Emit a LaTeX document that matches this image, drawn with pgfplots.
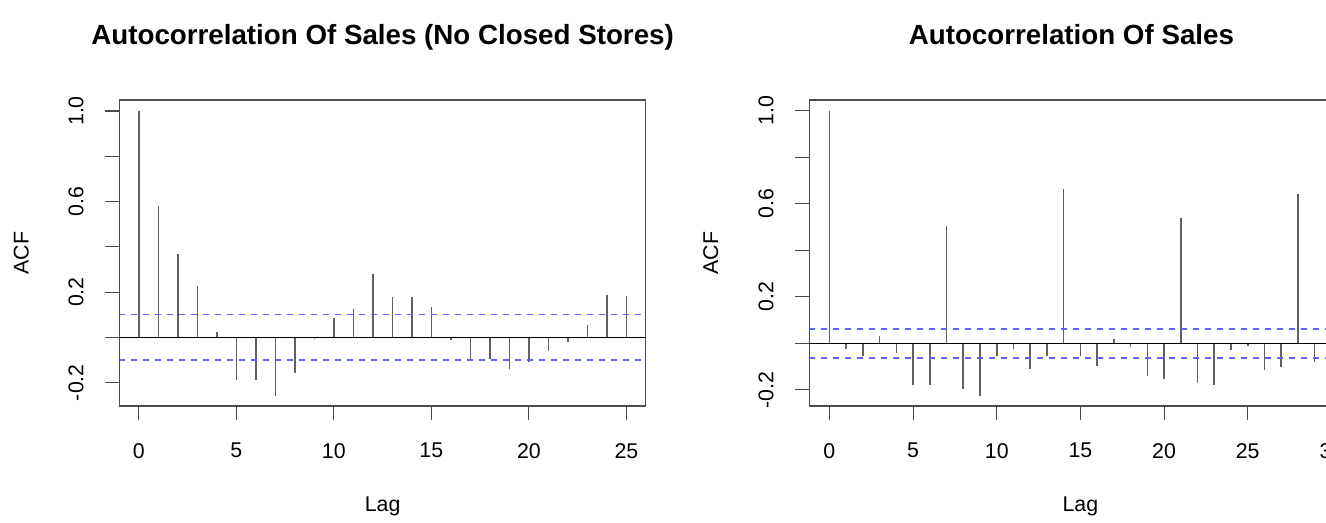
\documentclass[border=0pt]{standalone}
\usepackage{pgfplots}
\pgfplotsset{compat=1.18}
\usepackage{pgfplotstable}
\usepackage{fontspec}
\setmainfont{Liberation Sans}

\pgfplotstableread{
lag acf
0 1.000
1 0.582
2 0.368
3 0.229
4 0.026
5 -0.187
6 -0.188
7 -0.257
8 -0.157
9 -0.009
10 0.087
11 0.126
12 0.279
13 0.179
14 0.178
15 0.135
16 -0.010
17 -0.106
18 -0.096
19 -0.138
20 -0.110
21 -0.059
22 -0.021
23 0.054
24 0.188
25 0.184
}\leftdata

\pgfplotstableread{
lag acf
0 1.000
1 -0.022
2 -0.052
3 0.034
4 -0.042
5 -0.179
6 -0.179
7 0.505
8 -0.195
9 -0.227
10 -0.052
11 -0.023
12 -0.112
13 -0.052
14 0.665
15 -0.055
16 -0.095
17 0.017
18 -0.014
19 -0.141
20 -0.154
21 0.541
22 -0.169
23 -0.179
24 -0.030
25 -0.010
26 -0.116
27 -0.102
28 0.642
29 -0.079
}\rightdata

\definecolor{cilblue}{rgb}{0.38,0.38,1}

\pgfplotsset{acf/.style={
  scale only axis,
  axis line style={black!70, line width=0.9pt},
  tick align=outside,
  xtick pos=lower, ytick pos=left,
  major tick length=10.5pt,
  tick style={black!70, line width=0.8pt},
  ytick={-0.2,0,0.2,0.4,0.6,0.8,1.0},
  yticklabels={-0.2,,0.2,,0.6,,1.0},
  font=\fontsize{16}{19}\selectfont,
  ticklabel style={font=\fontsize{16}{19}\selectfont},
  xticklabel style={anchor=center, yshift=-23pt},
  yticklabel style={anchor=center, xshift=-22pt, rotate=90},
  title style={font=\bfseries\fontsize{20.8}{25}\selectfont, anchor=base,
    at={(axis description cs:0.5,1)}, yshift=35.8pt},
  xlabel=Lag, ylabel=ACF,
  xlabel style={at={(axis description cs:0.5,-0.328)}, anchor=center},
  ylabel style={anchor=center},
  height=229.5pt,
}}

\begin{document}
\begin{tikzpicture}
\path[use as bounding box] (0,0) rectangle (994.5pt,392.25pt);
\clip (0,0) rectangle (994.5pt,392.25pt);

\begin{axis}[acf, at={(89.5pt,87.75pt)}, anchor=south west,
  width=394.9pt,
  xmin=-1, xmax=26, ymin=-0.303, ymax=1.0486,
  xtick={0,5,10,15,20,25}, xticklabels={0,5,10,15,20,25},
  ylabel style={at={(axis description cs:-0.1861,0.5)}},
  title={Autocorrelation Of Sales (No Closed Stores)}]
\addplot[ycomb, black!62, line width=1.2pt, mark=none] table[x=lag,y=acf] {\leftdata};
\addplot[black, line width=0.8pt, mark=none] coordinates {(-1,0) (26,0)};
\addplot[cilblue, line width=1.1pt, dash pattern=on 4.5pt off 4.5pt, mark=none] coordinates {(-1,0.100) (26,0.100)};
\addplot[cilblue, line width=1.1pt, dash pattern=on 4.5pt off 4.5pt, mark=none] coordinates {(-1,-0.100) (26,-0.100)};
\end{axis}

\begin{axis}[acf, at={(607pt,87.75pt)}, anchor=south west,
  width=406.6pt,
  xmin=-1.2, xmax=31.2, ymin=-0.269, ymax=1.047,
  xtick={0,5,10,15,20,25,30}, xticklabels={0,5,10,15,20,25,30},
  ylabel style={at={(axis description cs:-0.1817,0.5)}},
  title style={xshift=-6.75pt},
  title={Autocorrelation Of Sales}]
\addplot[ycomb, black!62, line width=1.2pt, mark=none] table[x=lag,y=acf] {\rightdata};
\addplot[black, line width=0.8pt, mark=none] coordinates {(-1.2,0) (31.2,0)};
\addplot[cilblue, line width=1.1pt, dash pattern=on 4.5pt off 4.5pt, mark=none] coordinates {(-1.2,0.062) (31.2,0.062)};
\addplot[cilblue, line width=1.1pt, dash pattern=on 4.5pt off 4.5pt, mark=none] coordinates {(-1.2,-0.062) (31.2,-0.062)};
\end{axis}
\end{tikzpicture}
\end{document}
